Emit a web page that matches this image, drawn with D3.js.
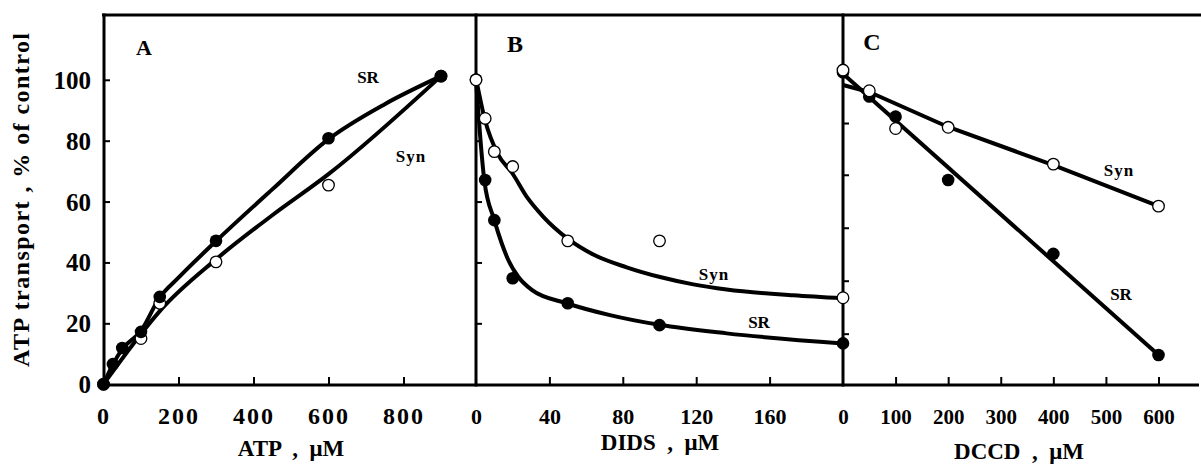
<!DOCTYPE html>
<html>
<head>
<meta charset="utf-8">
<script src="https://cdn.jsdelivr.net/npm/d3@7/dist/d3.min.js"></script>
<style>
body { margin: 0; background: #fff; }
svg { display: block; }
text { font-family: "Liberation Serif", "Times New Roman", serif; font-weight: bold; fill: #000; }
</style>
</head>
<body>
<div id="chart"></div>
<script>
/* global d3 */
var width = 1201;
var height = 464;

// y values are "% of control", shared by all three panels
var yTicks = [0, 20, 40, 60, 80, 100];
var cYTicks = [16.6, 34, 51.4, 68.8, 85.8];   // unlabelled ticks on panel C

// panel A: ATP, uM
var atpX = [0, 25, 50, 100, 150, 300, 600, 900];
var atpSR = [0, 6.6, 11.9, 17.2, 28.7, 47.1, 80.8, 101.2];
var atpSynX = [0, 100, 150, 300, 600, 900];
var atpSyn = [0, 15, 26.6, 40.2, 65.4, 101.2];
var atpFitSRX = [0, 25, 50, 100, 150, 200, 300, 450, 600, 750, 900];
var atpFitSR = [0, 6.5, 11.5, 17.5, 28.5, 35, 47, 64, 80.5, 92, 101.2];
var atpFitSynX = [0, 100, 150, 300, 450, 600, 900];
var atpFitSyn = [0, 16.5, 24, 41, 55.5, 69, 101.2];
var atpTicks = [0, 200, 400, 600, 800];

// panel B: DIDS, uM
var didsX = [0, 5, 10, 20, 50, 100, 200];
var didsSR = [100, 67.1, 53.9, 34.8, 26.6, 19.4, 13.4];
var didsSyn = [100, 87.3, 76.4, 71.5, 47.1, 47.1, 28.4];
var didsFitSRX = [0, 4.5, 10, 14, 17.6, 23, 30.4, 49.4, 73, 100, 136.6, 200];
var didsFitSR = [100, 67.1, 53.9, 46.3, 40.8, 35.3, 31, 26.6, 22.7, 19.5, 16.7, 13.4];
var didsFitSynX = [0, 4.9, 12, 19.8, 27.6, 36.7, 49.8, 63.9, 82.1, 100.3, 118.4, 136.6, 172.9, 200];
var didsFitSyn = [100.5, 86.8, 75.5, 69.3, 61.6, 55, 47.9, 42.6, 38.4, 35.2, 32.8, 31.1, 29.2, 28.2];
var didsTicks = [0, 40, 80, 120, 160];

// panel C: DCCD, uM
var dccdX = [0, 50, 100, 200, 400, 600];
var dccdSR = [102.5, 94.5, 87.9, 67.1, 42.8, 9.6];
var dccdSyn = [103.2, 96.4, 84, 84.4, 72.3, 58.5];
var dccdFitSRX = [0, 600];
var dccdFitSR = [102, 9.6];
var dccdFitSynX = [0, 50, 200, 400, 600];
var dccdFitSyn = [98.3, 96, 84.5, 72, 58.5];
var dccdTicks = [0, 100, 200, 300, 400, 500, 600];

var top_y = 15, bottom_y = 385;

var svg = d3.select("#chart").append("svg")
	.attr("width", width)
	.attr("height", height);

var y = d3.scaleLinear().domain([0, 100]).range([384.2, 79.8]);

var panels = [
	{ name: "A", x: d3.scaleLinear().domain([0, 900]).range([103.5, 441]),
		px: atpX, sr: atpSR, synX: atpSynX, syn: atpSyn,
		fitSRX: atpFitSRX, fitSR: atpFitSR, fitSynX: atpFitSynX, fitSyn: atpFitSyn,
		ticks: atpTicks, tickFont: 24, tickSpacing: 2, filledOnTop: true,
		title: "ATP  ,  \u03bcM", titleX: 291, titleY: 456,
		letterX: 144, letterY: 55, letterSize: 22,
		srLab: [368, 83], synLab: [411, 162], curve: d3.curveMonotoneX },
	{ name: "B", x: d3.scaleLinear().domain([0, 200]).range([476, 843]),
		px: didsX, sr: didsSR, synX: didsX, syn: didsSyn,
		fitSRX: didsFitSRX, fitSR: didsFitSR, fitSynX: didsFitSynX, fitSyn: didsFitSyn,
		ticks: didsTicks, tickFont: 22, tickSpacing: 0, filledOnTop: false,
		title: "DIDS  ,  \u03bcM", titleX: 660, titleY: 450,
		letterX: 515, letterY: 52, letterSize: 24,
		srLab: [759, 328], synLab: [714, 280], curve: d3.curveMonotoneX },
	{ name: "C", x: d3.scaleLinear().domain([0, 600]).range([843, 1158.5]),
		px: dccdX, sr: dccdSR, synX: dccdX, syn: dccdSyn,
		fitSRX: dccdFitSRX, fitSR: dccdFitSR, fitSynX: dccdFitSynX, fitSyn: dccdFitSyn,
		ticks: dccdTicks, tickFont: 21, tickSpacing: 0, filledOnTop: false,
		title: "DCCD  ,  \u03bcM", titleX: 1019, titleY: 459,
		letterX: 872, letterY: 50, letterSize: 24,
		srLab: [1121, 300], synLab: [1119, 176], curve: d3.curveLinear }
];

// frame: top and bottom lines, panel dividers
svg.append("line").attr("x1", 102).attr("x2", 1201).attr("y1", top_y).attr("y2", top_y)
	.attr("stroke", "#000").attr("stroke-width", 3);
svg.append("line").attr("x1", 102).attr("x2", 1199).attr("y1", bottom_y).attr("y2", bottom_y)
	.attr("stroke", "#000").attr("stroke-width", 3);
[104, 476, 843].forEach(function(xv) {
	svg.append("line").attr("x1", xv).attr("x2", xv).attr("y1", top_y - 1.5).attr("y2", bottom_y + 1.5)
		.attr("stroke", "#000").attr("stroke-width", 3);
});

// y axis of A with labels, B and C with bare inward ticks
var yA = svg.append("g").attr("transform", "translate(104,0)")
	.call(d3.axisLeft(y).tickValues(yTicks).tickSizeInner(-6).tickSizeOuter(0).tickPadding(13));
yA.selectAll("text").style("font-size", "25px").attr("dy", "0.34em");

svg.append("g").attr("transform", "translate(476,0)")
	.call(d3.axisRight(y).tickValues(yTicks.slice(1)).tickSize(6).tickFormat(""));
svg.append("g").attr("transform", "translate(843,0)")
	.call(d3.axisRight(y).tickValues(cYTicks).tickSize(6).tickFormat(""));

svg.selectAll(".domain").remove();
svg.selectAll(".tick line").attr("stroke-width", 2);

svg.append("text")
	.attr("transform", "translate(29,367) rotate(-90)")
	.attr("text-anchor", "start")
	.attr("textLength", 334)
	.attr("lengthAdjust", "spacing")
	.style("font-size", "24px")
	.text("ATP transport , % of control");

panels.forEach(function(p) {
	var g = svg.append("g").attr("class", "panel-" + p.name);

	var xa = g.append("g").attr("transform", "translate(0," + bottom_y + ")")
		.call(d3.axisBottom(p.x).tickValues(p.ticks).tickSizeInner(-8).tickSizeOuter(0));
	xa.select(".domain").remove();
	xa.selectAll(".tick line").attr("stroke-width", 2)
		.filter(function(d) { return d === 0; }).remove();
	xa.selectAll("text")
		.attr("y", 39).attr("dy", null)
		.style("font-size", p.tickFont + "px")
		.style("letter-spacing", p.tickSpacing + "px");

	var line = d3.line()
		.x(function(d) { return p.x(d[0]); })
		.y(function(d) { return y(d[1]); })
		.curve(p.curve);

	g.append("path").datum(d3.zip(p.fitSRX, p.fitSR))
		.attr("d", line).attr("fill", "none").attr("stroke", "#000")
		.attr("stroke-width", 4).attr("stroke-linejoin", "round");
	g.append("path").datum(d3.zip(p.fitSynX, p.fitSyn))
		.attr("d", line).attr("fill", "none").attr("stroke", "#000")
		.attr("stroke-width", 4).attr("stroke-linejoin", "round");

	function drawSR() {
		g.selectAll(".sr").data(d3.zip(p.px, p.sr)).enter()
			.append("circle").attr("class", "sr")
			.attr("cx", function(d) { return p.x(d[0]); })
			.attr("cy", function(d) { return y(d[1]); })
			.attr("r", 6.3).attr("fill", "#000");
	}
	function drawSyn() {
		g.selectAll(".syn").data(d3.zip(p.synX, p.syn)).enter()
			.append("circle").attr("class", "syn")
			.attr("cx", function(d) { return p.x(d[0]); })
			.attr("cy", function(d) { return y(d[1]); })
			.attr("r", 5.8).attr("fill", "#fff").attr("stroke", "#000").attr("stroke-width", 1.3);
	}
	if (p.filledOnTop) { drawSyn(); drawSR(); } else { drawSR(); drawSyn(); }

	g.append("text").attr("x", p.letterX).attr("y", p.letterY)
		.attr("text-anchor", "middle").style("font-size", p.letterSize + "px").text(p.name);
	g.append("text").attr("x", p.srLab[0]).attr("y", p.srLab[1])
		.attr("text-anchor", "middle").style("font-size", "17px").text("SR");
	g.append("text").attr("x", p.synLab[0]).attr("y", p.synLab[1])
		.attr("text-anchor", "middle").style("font-size", "17px").style("letter-spacing", "1px").text("Syn");
	g.append("text").attr("x", p.titleX).attr("y", p.titleY)
		.attr("text-anchor", "middle").style("white-space", "pre")
		.style("font-size", "23px").text(p.title);
});
</script>
</body>
</html>
